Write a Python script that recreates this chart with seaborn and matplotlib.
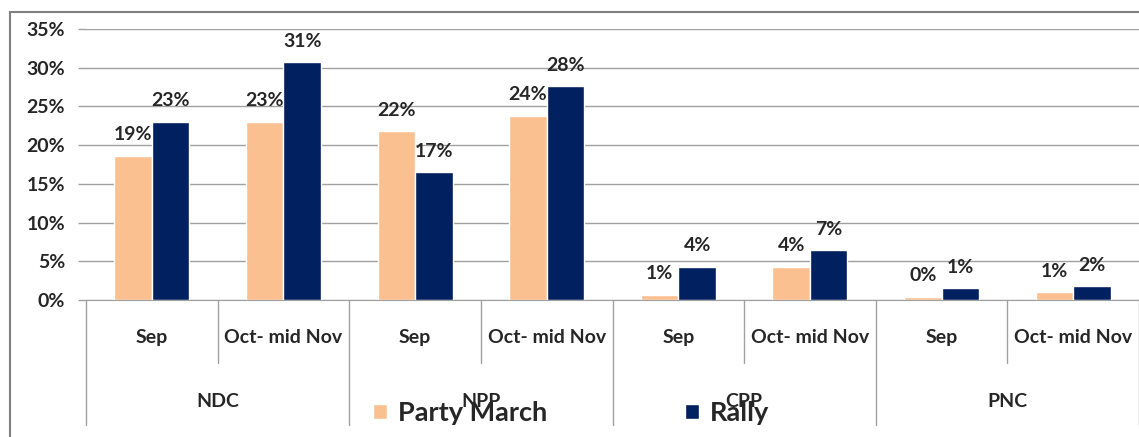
import pandas as pd
import seaborn as sns
import matplotlib.pyplot as plt
from matplotlib.patches import Rectangle

# data
parties = ["NDC", "NPP", "CPP", "PNC"]
periods = ["Sep", "Oct- mid Nov"]
party_march = [18.6, 23.0, 21.8, 23.8, 0.65, 4.3, 0.4, 1.0]
rally = [23.0, 30.7, 16.5, 27.6, 4.3, 6.4, 1.5, 1.8]
march_labels = ["19%", "23%", "22%", "24%", "1%", "4%", "0%", "1%"]
rally_labels = ["23%", "31%", "17%", "28%", "4%", "7%", "1%", "2%"]

cats = [p + " " + t for p in parties for t in periods]
df = pd.DataFrame({
    "cat": cats * 2,
    "series": ["Party March"] * len(cats) + ["Rally"] * len(cats),
    "value": [v / 100 for v in party_march + rally],
})

sns.set_style("white")
plt.rcParams['font.family'] = ['Lato', 'DejaVu Sans']
fs = 14

fig = plt.figure(figsize=(11.39, 4.37), dpi=100)
ax = fig.add_axes([86 / 1139, 1 - 300 / 437, 1 - 86 / 1139, 271 / 437])

sns.barplot(data=df, x="cat", y="value", hue="series", order=cats,
            palette=["#FAC090", "#002060"], width=0.57, gap=0,
            saturation=1, ax=ax, legend=True)

for cont, labs in zip(ax.containers, [march_labels, rally_labels]):
    ax.bar_label(cont, labels=labs, padding=9, fontsize=fs, fontweight="bold")

ax.set_ylim(0, 0.35)
ax.set_xlim(-0.5, len(cats) - 0.5)
ax.set_yticks([i * 0.05 for i in range(8)])
ax.set_yticklabels([f"{i * 5}%" for i in range(8)], fontsize=fs, fontweight="bold")
ax.yaxis.grid(True, color="#A0A0A0", lw=1)
ax.tick_params(axis="y", length=6, width=1, color="#A0A0A0", pad=9, left=True)
for s in ["left", "right", "top"]:
    ax.spines[s].set_visible(False)
ax.spines["bottom"].set_color("#A0A0A0")
ax.set_axisbelow(True)

ax.set_xticks(range(len(cats)))
ax.set_xticklabels(periods * len(parties), fontsize=fs, fontweight="bold")
ax.tick_params(axis="x", length=0, pad=21)
ax.set_xlabel("")
ax.set_ylabel("")

tr = ax.get_xaxis_transform()
for i in range(len(cats) + 1):
    x = i - 0.5
    bottom = -0.461 if i % 2 == 0 else -0.232
    ax.plot([x, x], [0, bottom], color="#A0A0A0", lw=1, transform=tr, clip_on=False)
for j, p in enumerate(parties):
    ax.text(2 * j + 0.5, -0.376, p, transform=tr, ha="center", va="center",
            fontsize=fs, fontweight="bold")

h, l = ax.get_legend_handles_labels()
ax.get_legend().remove()
fig.legend(h, l, loc="center", bbox_to_anchor=(571 / 1139, 1 - 413 / 437),
           ncol=2, frameon=False, prop={"size": 19.5, "weight": "bold"},
           handlelength=0.5, handleheight=0.5,
           handletextpad=0.4, columnspacing=5.1)

fig.patches.append(Rectangle((10 / 1139, -0.1), 1.2, 1.1 - 12 / 437, transform=fig.transFigure,
                             fill=False, edgecolor="#808080", lw=1.5))

fig.savefig("out.png", dpi=100)
